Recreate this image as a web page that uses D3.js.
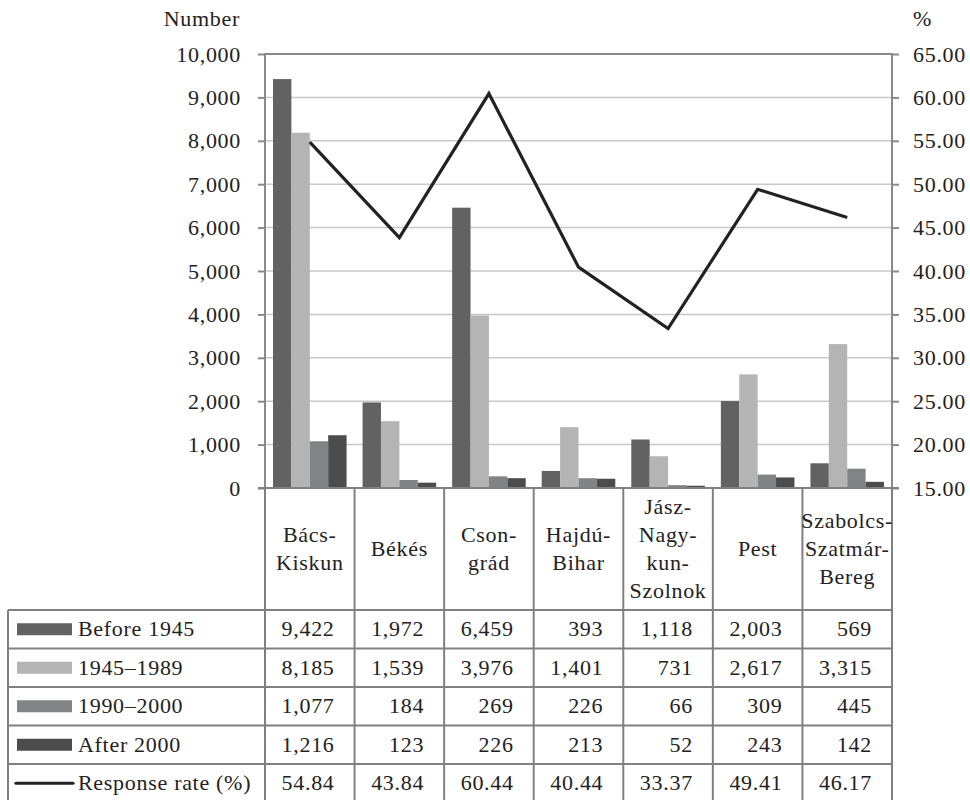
<!DOCTYPE html>
<html>
<head>
<meta charset="utf-8">
<script src="https://cdn.jsdelivr.net/npm/d3@7"></script>
<style>
  body { margin: 0; background: #fff; }
</style>
</head>
<body>
<div id="chart"></div>
<script>
// data
const categories = ["Bács-Kiskun", "Békés", "Csongrád", "Hajdú-Bihar", "Jász-Nagykun-Szolnok", "Pest", "Szabolcs-Szatmár-Bereg"];
const headerLines = [["Bács-", "Kiskun"], ["Békés"], ["Cson-", "grád"], ["Hajdú-", "Bihar"], ["Jász-", "Nagy-", "kun-", "Szolnok"], ["Pest"], ["Szabolcs-", "Szatmár-", "Bereg"]];
const seriesNames = ["Before 1945", "1945–1989", "1990–2000", "After 2000"];
const before1945 = [9422, 1972, 6459, 393, 1118, 2003, 569];
const y1945_1989 = [8185, 1539, 3976, 1401, 731, 2617, 3315];
const y1990_2000 = [1077, 184, 269, 226, 66, 309, 445];
const after2000 = [1216, 123, 226, 213, 52, 243, 142];
const responseRate = [54.84, 43.84, 60.44, 40.44, 33.37, 49.41, 46.17];
const leftTicks = [0, 1000, 2000, 3000, 4000, 5000, 6000, 7000, 8000, 9000, 10000];
const rightTicks = [15, 20, 25, 30, 35, 40, 45, 50, 55, 60, 65];

const seriesValues = [before1945, y1945_1989, y1990_2000, after2000];
const seriesColors = ["#626262", "#b4b4b4", "#818385", "#4c4c4c"];

const W = 970, H = 800;
const FONT = "Liberation Serif";
const fs = 22;

const svg = d3.select("#chart").append("svg").attr("width", W).attr("height", H);

// helper so every label gets the same serif look
function label(sel) {
  return sel.style("font-family", FONT)
    .style("font-size", fs + "px")
    .style("letter-spacing", "0.7px")
    .style("fill", "#222");
}

const plotLeft = 265, plotRight = 892, plotTop = 54, plotBottom = 488;

const x = d3.scaleBand().domain(categories).range([plotLeft, plotRight]).paddingInner(0).paddingOuter(0);
const xs = d3.scaleBand().domain(seriesNames).range([8, x.bandwidth() - 8]).padding(0);
const y = d3.scaleLinear().domain([0, 10000]).range([plotBottom, plotTop]);
const y2 = d3.scaleLinear().domain([15, 65]).range([plotBottom, plotTop]);

// gridlines
svg.append("g").selectAll("line")
  .data(leftTicks.slice(1))
  .join("line")
  .attr("x1", plotLeft).attr("x2", plotRight)
  .attr("y1", d => y(d)).attr("y2", d => y(d))
  .style("stroke", d => d === 10000 ? "#8a8a8a" : "#c8c8c8")
  .style("stroke-width", d => d === 10000 ? 2 : 1.5);

// bars
const groups = svg.append("g").selectAll("g")
  .data(categories)
  .join("g")
  .attr("transform", d => `translate(${x(d)},0)`);

groups.selectAll("rect")
  .data((c, i) => seriesNames.map((s, j) => ({ s, v: seriesValues[j][i], j })))
  .join("rect")
  .attr("x", d => xs(d.s))
  .attr("width", xs.bandwidth())
  .attr("y", d => y(d.v))
  .attr("height", d => plotBottom - y(d.v))
  .style("fill", d => seriesColors[d.j]);

// axes
const leftAxis = svg.append("g")
  .attr("transform", `translate(${plotLeft},0)`)
  .call(d3.axisLeft(y).tickValues(leftTicks).tickFormat(d3.format(",")).tickSize(7).tickPadding(17));
const rightAxis = svg.append("g")
  .attr("transform", `translate(${plotRight},0)`)
  .call(d3.axisRight(y2).tickValues(rightTicks).tickFormat(d3.format(".2f")).tickSize(7).tickPadding(14));

[leftAxis, rightAxis].forEach(a => {
  a.select(".domain").remove();
  a.selectAll(".tick line").style("stroke", "#8a8a8a").style("stroke-width", 2);
  label(a.selectAll(".tick text"));
});
svg.append("line").attr("x1", plotLeft).attr("x2", plotLeft).attr("y1", plotTop - 1).attr("y2", plotBottom)
  .style("stroke", "#8a8a8a").style("stroke-width", 2);
svg.append("line").attr("x1", plotRight).attr("x2", plotRight).attr("y1", plotTop - 1).attr("y2", plotBottom)
  .style("stroke", "#8a8a8a").style("stroke-width", 2);

// axis titles
label(svg.append("text").attr("x", 240).attr("y", 26).attr("text-anchor", "end")).text("Number");
label(svg.append("text").attr("x", 913).attr("y", 26)).text("%");

// response rate line
const line = d3.line()
  .x((d, i) => x(categories[i]) + x.bandwidth() / 2)
  .y(d => y2(d));
svg.append("path")
  .datum(responseRate)
  .attr("d", line)
  .style("fill", "none")
  .style("stroke", "#222")
  .style("stroke-width", 3.2)
  .style("stroke-linejoin", "miter");

// data table
const tableLeft = 8;
const headerBottom = 610;
const rowH = 38.5;
const rowLabels = seriesNames.concat(["Response rate (%)"]);
const rowData = seriesValues.map(arr => arr.map(d3.format(","))).concat([responseRate.map(d3.format(".2f"))]);
const tableBottom = headerBottom + rowH * rowLabels.length;
const grid = svg.append("g").style("stroke", "#808080").style("stroke-width", 2);

// bottom axis line
grid.append("line").attr("x1", plotLeft - 7).attr("x2", plotRight + 7).attr("y1", plotBottom).attr("y2", plotBottom);
// vertical column lines
const colEdges = categories.map(c => x(c)).concat([plotRight]);
grid.selectAll("line.col")
  .data(colEdges)
  .join("line")
  .attr("class", "col")
  .attr("x1", d => d).attr("x2", d => d)
  .attr("y1", plotBottom).attr("y2", tableBottom);
grid.append("line").attr("x1", tableLeft).attr("x2", tableLeft).attr("y1", headerBottom).attr("y2", tableBottom);
// horizontal row lines
grid.selectAll("line.row")
  .data(d3.range(rowLabels.length + 1))
  .join("line")
  .attr("class", "row")
  .attr("x1", tableLeft).attr("x2", plotRight)
  .attr("y1", d => headerBottom + d * rowH).attr("y2", d => headerBottom + d * rowH);

// header text
const headCenter = (plotBottom + headerBottom) / 2 + 7;
categories.forEach((c, i) => {
  const lines = headerLines[i];
  const t = label(svg.append("text").attr("text-anchor", "middle"));
  lines.forEach((ln, k) => {
    t.append("tspan")
      .attr("x", x(c) + x.bandwidth() / 2)
      .attr("y", headCenter + (k - (lines.length - 1) / 2) * 28)
      .text(ln);
  });
});

// row labels and legend keys
rowLabels.forEach((lab, r) => {
  const cy = headerBottom + r * rowH + rowH / 2;
  if (r < 4) {
    svg.append("rect").attr("x", 17).attr("y", cy - 6).attr("width", 55).attr("height", 12)
      .style("fill", seriesColors[r]);
  } else {
    svg.append("line").attr("x1", 16).attr("x2", 73).attr("y1", cy).attr("y2", cy)
      .style("stroke", "#222").style("stroke-width", 3.2).style("stroke-linecap", "round");
  }
  label(svg.append("text").attr("x", 78).attr("y", cy + 7)).text(lab);
  rowData[r].forEach((v, i) => {
    label(svg.append("text")
      .attr("x", x(categories[i]) + x.bandwidth() - 20)
      .attr("y", cy + 7)
      .attr("text-anchor", "end"))
      .text(v);
  });
});
</script>
</body>
</html>
